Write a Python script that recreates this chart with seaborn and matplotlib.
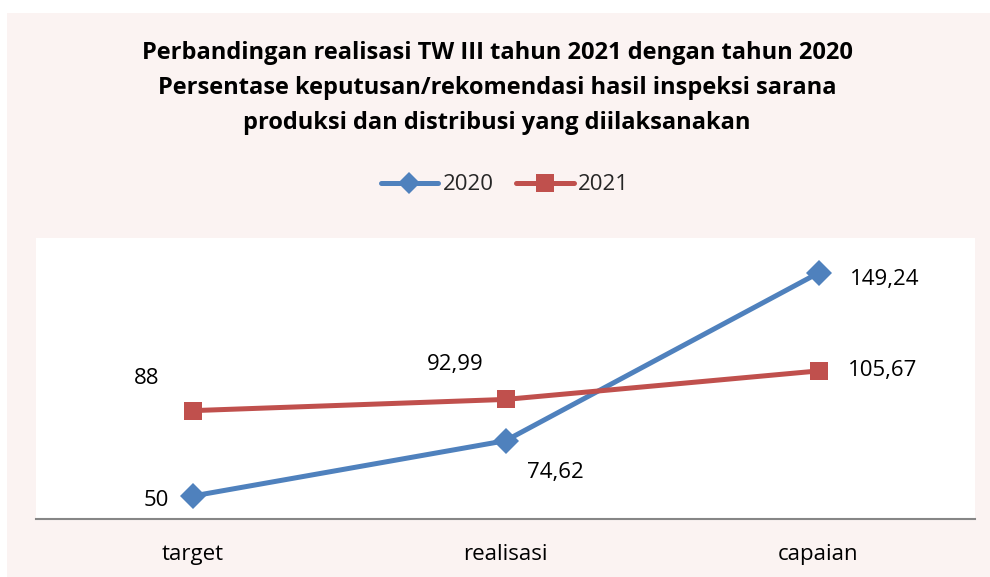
import matplotlib
matplotlib.use("Agg")
import matplotlib.pyplot as plt
import pandas as pd
import seaborn as sns

categories = ["target", "realisasi", "capaian"]
values_2020 = [50, 74.62, 149.24]
values_2021 = [88, 92.99, 105.67]
labels_2020 = ["50", "74,62", "149,24"]
labels_2021 = ["88", "92,99", "105,67"]

BLUE = "#4F81BD"
RED = "#C0504D"
PINK_BG = "#FBF3F2"

sns.set_theme(style="white")
plt.rcParams["font.family"] = ["Open Sans", "DejaVu Sans"]

df = pd.DataFrame({
    "kategori": categories * 2,
    "nilai": values_2020 + values_2021,
    "tahun": ["2020"] * 3 + ["2021"] * 3,
})

fig = plt.figure(figsize=(9.9, 5.77), dpi=100)
fig.patch.set_facecolor("white")
# pink chart area with thin white margin on top/left
bg = plt.Rectangle((7 / 990, 0), 1, 1 - 13 / 577, transform=fig.transFigure,
                   facecolor=PINK_BG, edgecolor="none", zorder=-10)
fig.patches.append(bg)

ax = fig.add_axes([36 / 990, 1 - 519 / 577, (975 - 36) / 990, (519 - 238) / 577])
ax.set_facecolor("white")

sns.lineplot(data=df, x="kategori", y="nilai", hue="tahun", style="tahun",
             palette={"2020": BLUE, "2021": RED},
             markers={"2020": "D", "2021": "s"}, dashes=False, sort=False,
             linewidth=3.6, markersize=13.5, markeredgewidth=0, ax=ax, legend=False)

ax.set_xlim(-0.5, 2.5)
ax.set_ylim(39.8, 164.8)
ax.set_yticks([])
ax.set_xlabel("")
ax.set_ylabel("")
for s in ["top", "left", "right"]:
    ax.spines[s].set_visible(False)
ax.spines["bottom"].set_color("#868686")
ax.spines["bottom"].set_linewidth(1.5)
ax.tick_params(axis="x", length=0, pad=18, labelsize=16, colors="black")

# data labels (offsets in points)
off_2020 = [(-26, -3), (36, -23), (48, -5)]
off_2021 = [(-33, 23), (-36, 25), (46, 0)]
for i, (v, t) in enumerate(zip(values_2020, labels_2020)):
    ax.annotate(t, (i, v), xytext=off_2020[i], textcoords="offset points",
                ha="center", va="center", fontsize=16, color="black")
for i, (v, t) in enumerate(zip(values_2021, labels_2021)):
    ax.annotate(t, (i, v), xytext=off_2021[i], textcoords="offset points",
                ha="center", va="center", fontsize=16, color="black")

fig.text(0.502, 1 - 88 / 577,
         "Perbandingan realisasi TW III tahun 2021 dengan tahun 2020\n"
         "Persentase keputusan/rekomendasi hasil inspeksi sarana\n"
         "produksi dan distribusi yang diilaksanakan",
         ha="center", va="center", fontsize=17, fontweight="bold",
         linespacing=1.6, color="black")

handles = [
    plt.Line2D([], [], color=BLUE, marker="D", markersize=11, linewidth=3.6, markeredgewidth=0),
    plt.Line2D([], [], color=RED, marker="s", markersize=13, linewidth=3.6, markeredgewidth=0),
]
fig.legend(handles, ["2020", "2021"], loc="center", bbox_to_anchor=(0.51, 1 - 185 / 577),
           ncol=2, frameon=False, fontsize=16, handlelength=2.6, columnspacing=1.0,
           handletextpad=0.2)

fig.savefig("out.png", dpi=100, facecolor=fig.get_facecolor())
